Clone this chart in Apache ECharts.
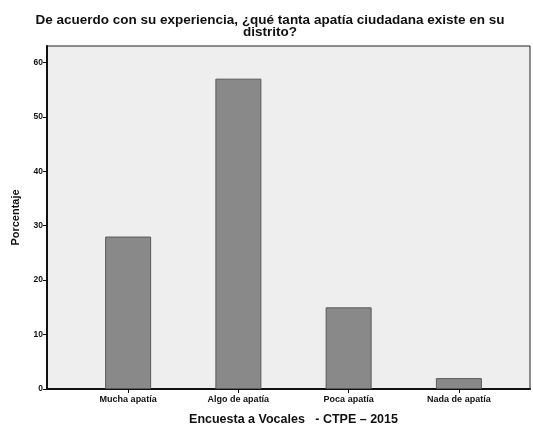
<!DOCTYPE html>
<html>
<head>
<meta charset="utf-8">
<script src="https://cdn.jsdelivr.net/npm/echarts@6/dist/echarts.min.js"></script>
<style>
  html, body { margin: 0; padding: 0; background: #fff; }
  #chart { width: 533px; height: 426px; }
</style>
</head>
<body>
<div id="chart"></div>
<script>
var categories = ['Mucha apatía', 'Algo de apatía', 'Poca apatía', 'Nada de apatía'];
var porcentaje = [28, 57, 15, 2];
var yTicks = [0, 10, 20, 30, 40, 50, 60];

var chart = echarts.init(document.getElementById('chart'));
var font = 'Liberation Sans, Arial, sans-serif';

chart.setOption({
  animation: false,
  title: {
    text: 'De acuerdo con su experiencia, ¿qué tanta apatía ciudadana existe en su\ndistrito?',
    left: 265,
    textAlign: 'center',
    top: 9,
    textStyle: { fontFamily: font, fontSize: 13.5, fontWeight: 'bold', color: '#111', lineHeight: 12 }
  },
  grid: [
    { left: 73, right: 19, top: 46, bottom: 37, outerBoundsMode: 'none' },
    { left: 47, right: 3, top: 46, bottom: 37, outerBoundsMode: 'none', show: true, backgroundColor: '#eeeeee', borderColor: '#222', borderWidth: 1 }
  ],
  xAxis: [
    {
      type: 'category',
      gridIndex: 0,
      data: categories,
      name: 'Encuesta a Vocales   - CTPE – 2015',
      nameLocation: 'middle',
      nameGap: 24,
      nameTextStyle: { fontFamily: font, fontSize: 12.5, fontWeight: 'bold', color: '#111' },
      axisLine: { show: false },
      axisTick: { show: true, alignWithLabel: true, length: 4, lineStyle: { color: '#111' } },
      axisLabel: { fontFamily: font, fontSize: 9, fontWeight: 'bold', color: '#111', margin: 6 }
    },
    {
      type: 'value',
      gridIndex: 1,
      min: 0,
      max: 1,
      axisLine: { show: true, lineStyle: { color: '#111', width: 2 } },
      axisTick: { show: false },
      axisLabel: { show: false },
      splitLine: { show: false }
    }
  ],
  yAxis: [
    {
      type: 'value',
      gridIndex: 0,
      min: 0,
      max: 63,
      interval: 10,
      offset: 26,
      name: 'Porcentaje',
      nameLocation: 'middle',
      nameGap: 26,
      nameTextStyle: { fontFamily: font, fontSize: 11, fontWeight: 'bold', color: '#111' },
      axisLine: { show: true, lineStyle: { color: '#111', width: 2 } },
      axisTick: { show: true, length: 4, lineStyle: { color: '#111' } },
      axisLabel: {
        fontFamily: font, fontSize: 8.5, fontWeight: 'bold', color: '#111', margin: 4,
        showMaxLabel: false,
        formatter: function (v) { return yTicks.indexOf(v) >= 0 ? v : ''; }
      },
      splitLine: { show: false }
    },
    {
      type: 'value',
      gridIndex: 1,
      show: false
    }
  ],
  series: [
    {
      type: 'bar',
      xAxisIndex: 0,
      yAxisIndex: 0,
      data: porcentaje,
      barWidth: 46,
      itemStyle: { color: '#898989', borderColor: '#5a5a5a', borderWidth: 1 }
    }
  ]
});
</script>
</body>
</html>
